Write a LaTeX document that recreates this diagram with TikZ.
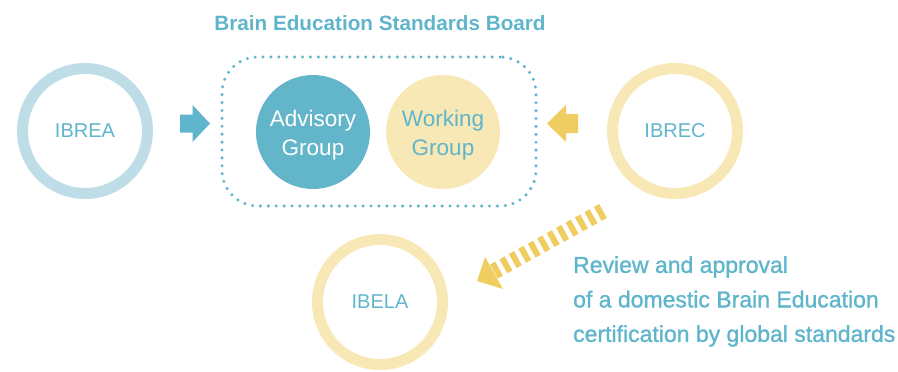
\documentclass[tikz,border=0pt]{standalone}
\usepackage{fontspec}
\setmainfont{Liberation Sans}
\newfontfamily\medfont[FakeBold=1.2]{Liberation Sans}
\definecolor{tblue}{HTML}{5FB5CB}
\definecolor{advfill}{HTML}{63B5CA}
\definecolor{ringblue}{HTML}{BEDDE7}
\definecolor{ringyel}{HTML}{F8E8B6}
\definecolor{arryel}{HTML}{EFCD60}
\begin{document}
\begin{tikzpicture}[x=1pt,y=-1pt,
  ring/.style={circle,minimum size=125pt,line width=11pt,inner sep=0pt,text=tblue,font=\fontsize{20}{22}\selectfont},
  grp/.style={circle,minimum size=114pt,inner sep=0pt,align=center,font=\fontsize{22.5}{29}\selectfont},
  lbl/.style={text=tblue,inner sep=0pt}]
\useasboundingbox (0,0) rectangle (898,372);
% rings
\node[ring,draw=ringblue] (ibrea) at (85,131) {IBREA};
\node[ring,draw=ringyel] (ibrec) at (675,131) {IBREC};
\node[ring,draw=ringyel] (ibela) at (380,302) {IBELA};
% board
\node[draw=tblue,line width=3.4pt,line cap=round,dash pattern=on 0pt off 7.9pt,rounded corners=36pt,minimum width=314pt,minimum height=149pt] (board) at (379,131.5) {};
\node[lbl,font=\fontsize{20.7}{24}\selectfont\bfseries] (title) at (380,23) {Brain Education Standards Board};
\node[grp,fill=advfill,text=white] (adv) at (313,132) {};
\node[grp,fill=ringyel,text=tblue] (work) at (443,132) {};
\node[grp,text=white,anchor=center] (advt) at (313,135) {Advisory\\Group};
\node[grp,text=tblue,anchor=center] (workt) at (443,135) {Working\\Group};
% block arrows
\fill[tblue] (180,114.5) -- (192.5,114.5) -- (192.5,105) -- (210,123.5) -- (192.5,142) -- (192.5,132.5) -- (180,132.5) -- cycle;
\fill[arryel] (578,114) -- (566,114) -- (566,105) -- (547,123.5) -- (566,142) -- (566,133) -- (578,133) -- cycle;
% dashed arrow
\coordinate (ds) at (603,211);
\coordinate (de) at (493,272);
\draw[arryel,line width=16pt,dash pattern=on 6pt off 4.8pt] (ds) -- (de);
\fill[arryel] (477,281) -- (485,257) -- (503,289) -- cycle;
% review text
\node[lbl,anchor=north west,align=left,font=\medfont\fontsize{23}{34.5}\selectfont] (rev) at (573,256) {Review and approval\\of a domestic Brain Education\\certification by global standards};
\end{tikzpicture}
\end{document}
